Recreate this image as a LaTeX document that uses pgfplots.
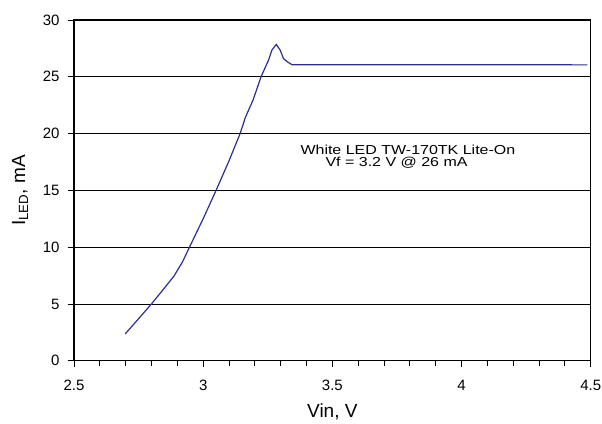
\documentclass[border=0pt]{standalone}
\usepackage{fontspec}
\setmainfont{Liberation Sans}
\newfontfamily\boxfont[FakeStretch=1.23]{Liberation Sans}
\usepackage{pgfplots}
\pgfplotsset{compat=1.18}
\definecolor{curve}{RGB}{45,45,150}
\begin{document}
\begin{tikzpicture}
\path[use as bounding box] (-74pt,-62.3pt) rectangle (528pt,360.7pt);
\begin{axis}[
  scale only axis, width=516.7pt, height=340.7pt,
  anchor=south west, at={(0pt,0pt)},
  axis lines=box,
  xmin=2.5, xmax=4.5, ymin=0, ymax=30,
  xtick={2.5,3,3.5,4,4.5}, ytick={0,5,10,15,20,25,30},
  minor x tick num=4,
  tick align=outside, major tick length=6pt, minor tick length=5pt,
  xtick pos=bottom, ytick pos=left,
  ymajorgrids, major grid style={black, line width=0.8pt},
  axis line style={black, line width=1.4pt},
  tick style={black, line width=0.8pt},
  /pgf/number format/assume math mode=true,
  ticklabel style={font=\fontsize{15}{15}\selectfont},
  xticklabel style={yshift=-10pt},
  yticklabel style={xshift=-5pt},
  xlabel={Vin, V}, ylabel={I\textsubscript{LED}, mA},
  label style={font=\fontsize{19}{19}\selectfont},
  xlabel style={at={(axis description cs:0.5,-0.168)}, anchor=base},
  ylabel style={at={(axis description cs:-0.0948,0.5)}, anchor=base},
  clip=false,
]
\addplot[color=curve, line width=1.2pt] coordinates {
(2.698,2.35) (2.75,3.7) (2.80,5.0) (2.85,6.4) (2.887,7.45) (2.92,8.7)
(2.947,10.0) (3.00,12.5) (3.05,15.0) (3.10,17.6) (3.143,20.0) (3.163,21.4)
(3.193,22.95) (3.224,25.0) (3.253,26.47) (3.266,27.35) (3.283,27.85)
(3.298,27.35) (3.311,26.6) (3.327,26.3) (3.344,26.06) (4.487,26.05)
};
\draw[black, line width=1.4pt] (rel axis cs:1,0) -- (rel axis cs:1,1);
\node[anchor=base west, inner sep=0pt, font=\boxfont\fontsize{13}{13}\selectfont] at (axis cs:3.376,18.14) {White LED TW-170TK Lite-On};
\node[anchor=base west, inner sep=0pt, font=\boxfont\fontsize{13}{13}\selectfont] at (axis cs:3.473,17.09) {Vf = 3.2 V @ 26 mA};
\end{axis}
\end{tikzpicture}
\end{document}
